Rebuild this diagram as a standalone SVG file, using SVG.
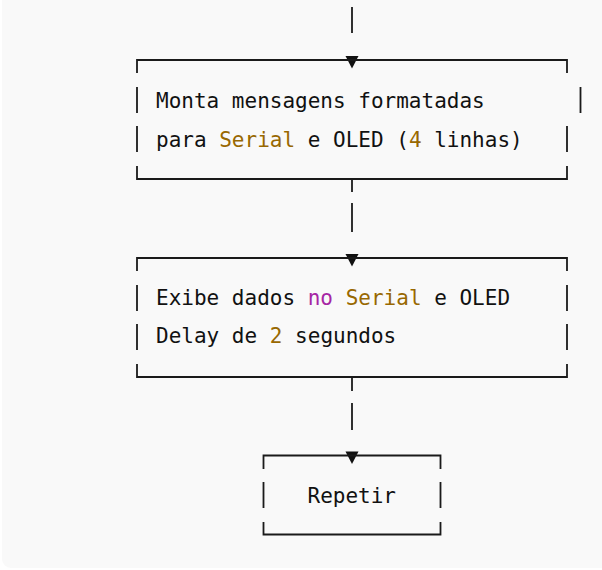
<svg xmlns="http://www.w3.org/2000/svg" xmlns:xlink="http://www.w3.org/1999/xlink" width="602" height="570" viewBox="0 0 602 570">
  <style>
    .bg { fill: #f9f9f9; }
    .ln { stroke: #1a1a1a; stroke-width: 1.8; fill: none; stroke-linecap: butt; }
    .tx { font-family: "DejaVu Sans Mono", "Liberation Mono", monospace; font-size: 21px; fill: #111111; }
    .num { fill: #986801; }
    .kw { fill: #a626a4; }
    .arr { fill: #111111; }
  </style>
  <defs>
    <path id="tri" d="M-6.5,-4 L6.5,-4 L0,8.5 Z"/>
  </defs>
  <rect class="bg" x="2" y="-20" width="640" height="588" rx="9" ry="9"/>

  <g id="connectors">
    <line class="ln" x1="352" y1="7" x2="352" y2="33"/>
    <use href="#tri" xlink:href="#tri" class="arr" x="352" y="60"/>
    <line class="ln" x1="352" y1="179" x2="352" y2="192"/>
    <line class="ln" x1="352" y1="203" x2="352" y2="232"/>
    <use href="#tri" xlink:href="#tri" class="arr" x="352" y="258"/>
    <line class="ln" x1="352" y1="377" x2="352" y2="391"/>
    <line class="ln" x1="352" y1="403" x2="352" y2="430"/>
    <use href="#tri" xlink:href="#tri" class="arr" x="352" y="455.5"/>
  </g>

  <g id="node-monta">
    <path class="ln" d="M137,73 V60 H567 V73"/>
    <path class="ln" d="M137,87 V113 M137,126 V152 M580.5,87 V113 M567,126 V152"/>
    <path class="ln" d="M137,166 V179 H567 V166"/>
    <text class="tx" x="156" y="108" xml:space="preserve">Monta mensagens formatadas</text>
    <text class="tx" x="156" y="147" xml:space="preserve">para <tspan class="num">Serial</tspan> e OLED (<tspan class="num">4</tspan> linhas)</text>
  </g>

  <g id="node-exibe">
    <path class="ln" d="M137,271 V258 H567 V271"/>
    <path class="ln" d="M137,285 V311 M137,324 V350 M567,285 V311 M567,324 V350"/>
    <path class="ln" d="M137,364 V377 H567 V364"/>
    <text class="tx" x="156" y="305" xml:space="preserve">Exibe dados <tspan class="kw">no</tspan> <tspan class="num">Serial</tspan> e OLED</text>
    <text class="tx" x="156" y="343" xml:space="preserve">Delay de <tspan class="num">2</tspan> segundos</text>
  </g>

  <g id="node-repetir">
    <path class="ln" d="M263.5,469 V455.5 H440.5 V469"/>
    <path class="ln" d="M263.5,482 V508 M440.5,482 V508"/>
    <path class="ln" d="M263.5,522 V534.5 H440.5 V522"/>
    <text class="tx" x="307.5" y="503" xml:space="preserve">Repetir</text>
  </g>
</svg>
